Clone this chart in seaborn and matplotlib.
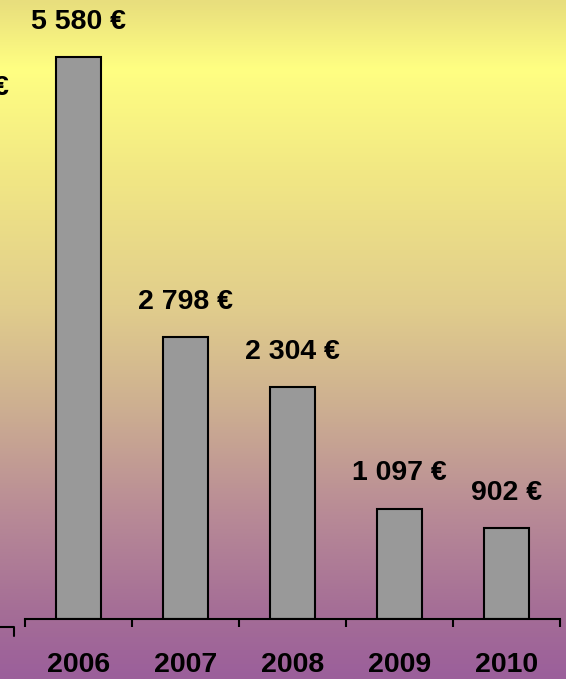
import matplotlib
matplotlib.use('Agg')

import numpy as np
import pandas as pd
import seaborn as sns
from matplotlib import pyplot as plt
from matplotlib.colors import LinearSegmentedColormap
from matplotlib.lines import Line2D

years = ['2006', '2007', '2008', '2009', '2010']
amounts = [5580, 2798, 2304, 1097, 902]
labels = ['5 580 €', '2 798 €', '2 304 €', '1 097 €', '902 €']

sns.set_style('white')
plt.rcParams['font.family'] = ['Liberation Sans', 'DejaVu Sans']
plt.rcParams['text.color'] = 'black'
plt.rcParams['xtick.color'] = 'black'

fig = plt.figure(figsize=(5.66, 6.79), dpi=100)

# background gradient (yellow on top, purple at the bottom)
bg = fig.add_axes([0, 0, 1, 1], zorder=-1)
stops = [(0.0, (232, 222, 125)), (0.10, (255, 255, 130)), (0.25, (242, 232, 132)),
         (0.45, (225, 205, 140)), (0.60, (205, 175, 145)), (0.75, (185, 140, 150)),
         (0.90, (165, 110, 150)), (1.0, (155, 95, 155))]
cmap = LinearSegmentedColormap.from_list('bg', [(p, tuple(c / 255 for c in rgb)) for p, rgb in stops])
bg.imshow(np.linspace(0, 1, 256).reshape(-1, 1), aspect='auto', cmap=cmap, extent=[0, 1, 0, 1])
bg.axis('off')

ax = fig.add_axes([25 / 566, (679 - 619) / 679, 535 / 566, 619 / 679])
ax.patch.set_alpha(0)
df = pd.DataFrame({'year': years, 'amount': amounts})
sns.barplot(data=df, x='year', y='amount', color='#999999', edgecolor='black',
            linewidth=1.5, width=0.42, saturation=1, ax=ax)

for i, (v, lab) in enumerate(zip(amounts, labels)):
    ax.annotate(lab, (i, v), xytext=(0, 16), textcoords='offset points',
                ha='center', va='bottom', fontsize=20.5, fontweight='bold', color='black')

ax.set_xlim(-0.5, 4.5)
ax.set_ylim(0, 6147)
ax.set_xlabel('')
ax.set_ylabel('')
ax.set_yticks([])
for s in ['top', 'left', 'right']:
    ax.spines[s].set_visible(False)
ax.spines['bottom'].set_linewidth(1.5)
ax.spines['bottom'].set_color('black')
ax.set_xticks(np.arange(-0.5, 5, 1), minor=True)
ax.tick_params(axis='x', which='minor', bottom=True, length=6, width=1.5,
               direction='out', color='black')
ax.tick_params(axis='x', which='major', bottom=True, length=0, pad=24,
               labelsize=20.5, labelcolor='black')
for t in ax.get_xticklabels():
    t.set_fontweight('bold')

# fragment of the neighbouring chart at the left edge
fig.text(-0.012, 1 - 88 / 679, '€', fontsize=20.5, fontweight='bold', va='center', ha='left')
fig.add_artist(Line2D([0, 14 / 566, 14 / 566], [1 - 627 / 679, 1 - 627 / 679, 1 - 636 / 679],
                      color='black', lw=1.5, transform=fig.transFigure))

plt.savefig('out.png', dpi=100)
